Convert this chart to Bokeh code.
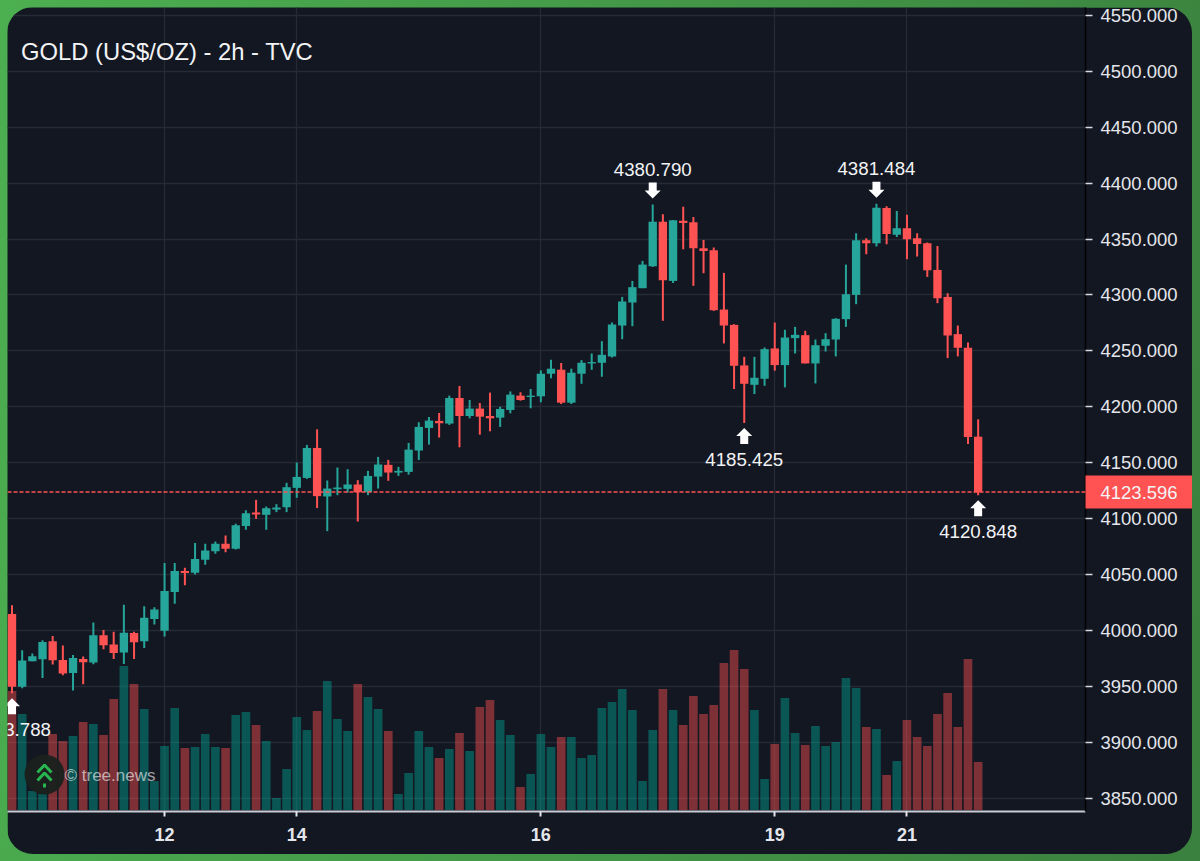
from bokeh.plotting import figure
from bokeh.embed import file_html
from bokeh.resources import INLINE
from bokeh.core.properties import value
from bokeh.models import (Range1d, FixedTicker, PrintfTickFormatter, Span,
                          Label, ColumnDataSource)

open_ = [4014.6,3949.4,3972.3,3974.1,3990.2,3973.5,3961.9,3974.4,3971.1,3995.6,3987.2,3980.1,3997.6,3990.2,4010.1,3999.7,
         4034.3,4053,4051.5,4063.1,4070.8,4077.4,4072.9,4093.2,4105.4,4103.3,4108,4110.1,4127.4,4136.3,4163.1,4119.7,
         4126.2,4126.5,4130.4,4123.5,4137.5,4148,4141.1,4141.7,4160.8,4181,4187.3,4184.9,4207.8,4191.7,4198.3,4191.7,
         4190.2,4197.1,4209.9,4208.7,4209.3,4229.5,4233.1,4203.6,4229.5,4238.7,4239.3,4244.9,4272.6,4293.2,4306,4325.6,
         4365.5,4312.5,4366.4,4364.9,4341.7,4339.9,4286.9,4273.2,4236.9,4219.6,4225,4252.1,4237.2,4261.3,4264,4238.7,
         4254.5,4260.1,4278.3,4300,4348.8,4346.2,4377.7,4353.9,4359.6,4350.6,4346.2,4322.3,4298.2,4264.9,4252.7,4173.2]
high = [4022.3,3982.2,3979.2,3991.1,3995,3986.3,3978,3976.5,4006.9,4000.3,3998.8,4022.9,3998.8,4021.5,4020.6,4060.2,
        4060.2,4056,4078,4077.4,4079.5,4084.8,4095.2,4107.4,4116.7,4110.7,4112.8,4131.9,4150,4165.8,4179.8,4134,
        4145.6,4144.1,4134.3,4142.6,4155.1,4152.4,4146.2,4167.6,4186.1,4190.8,4194.4,4209.9,4218.5,4206,4203.3,4212.6,
        4200,4213.7,4212.9,4215.8,4232.5,4242,4239.1,4234,4241.7,4247.6,4258.6,4275.3,4298.2,4312.5,4330.4,4380.8,
        4372.1,4366.7,4378.9,4369.7,4349.1,4342.3,4319.7,4273.8,4244.6,4244.6,4253,4275.3,4268.8,4271.4,4267.9,4260.1,
        4265.8,4279.2,4327.1,4355.1,4350.6,4381.5,4379.2,4375,4371.8,4355.1,4346.8,4343.8,4301.5,4272.6,4257.4,4188.7]
low = [3943.8,3948.2,3972.3,3957.4,3969.4,3959.8,3946.1,3951.8,3969.7,3983.1,3974.4,3969.9,3974.4,3984.2,4005.1,3994.4,
       4023.8,4040.2,4050,4058.6,4068.4,4069.9,4072.3,4089.9,4099.7,4089.9,4105.7,4105.7,4118.5,4135.4,4109.3,4088.7,
       4120.9,4123.2,4097.3,4120.9,4126.8,4133.7,4138.1,4139.3,4152.4,4166.1,4172.4,4183.7,4163.7,4189.6,4175,4178,
       4181.9,4194.1,4205.4,4198.6,4203.9,4225.4,4202.4,4202.4,4220.5,4233,4226.8,4244,4260.4,4272,4306,4325,
       4276.8,4310.7,4340.8,4308.1,4319.4,4285.7,4256.6,4215.8,4185.4,4211.3,4218.7,4232.2,4217.3,4247.6,4238.7,4220.8,
       4249.4,4245,4271.4,4291.7,4336.3,4343.2,4345.3,4351.8,4331.9,4334.3,4316.1,4292.6,4243.5,4245,4166.6,4120.8]
close = [3949.4,3972.9,3976.8,3989.6,3973.2,3961.3,3975.3,3971.4,3995.6,3986.6,3979.8,3997.9,3989.3,4011.3,4018.5,4035.1,
         4053,4051.2,4063.7,4071.4,4077.4,4072.9,4094,4104.8,4103.6,4109.2,4109.8,4128,4137.2,4163.1,4120,4126.8,
         4127.7,4130.4,4123.5,4138.1,4148.3,4141.1,4142.6,4161.6,4181.9,4187.6,4185.2,4207.8,4191.7,4198.3,4191.1,4189.6,
         4198,4210.8,4206,4209.9,4229.5,4234,4203.6,4230.4,4239.3,4239.9,4246.4,4273.5,4294.1,4306.9,4327.1,4365.5,
         4313.1,4366.7,4364.3,4341.7,4339.3,4286.3,4272.6,4236.6,4220.5,4225.9,4251.5,4237.2,4261.9,4264.3,4238.7,4255,
         4260.4,4278.6,4300.6,4348.8,4346.2,4378,4354.5,4359.6,4349.7,4345.6,4322,4297,4263.7,4252.7,4172.9,4123.5]
volume = [119,96,19,16,76,69,74,88,86,75,111,144,126,101,29,64,
          102,62,63,76,63,62,95,98,85,69,12,41,93,80,99,129,
          91,79,126,113,101,79,16,37,79,63,52,61,77,59,103,110,
          90,75,23,36,76,63,73,73,52,55,102,108,121,100,29,80,
          121,100,85,114,96,105,147,160,141,100,31,66,112,77,65,84,
          64,68,132,122,83,81,35,49,90,73,64,96,117,83,151,48]

x_tick_positions = [15, 28, 52, 75, 88]
x_tick_labels = ["12", "14", "16", "19", "21"]
y_grid_ticks = list(range(3850, 4551, 50))
last_price = 4123.596
last_price_text = "4123.596"
title_text = "GOLD (US$/OZ) - 2h - TVC"
peaks = [(63, 4380.790, "4380.790"), (85, 4381.484, "4381.484")]
troughs = [(0, 3943.788, "3943.788"), (72, 4185.425, "4185.425"), (95, 4120.848, "4120.848")]

UP, DOWN = "#26a69a", "#ff5252"
BG, GRID, TXT = "#131722", "#262a35", "#e4e6eb"

# pixel helpers for decorations only (page pixels -> axis units)
PX_X, PX_Y = 10.17, 1.118
def X(px): return (px - 11.5) / PX_X
def Y(py): return 3850 + (797.5 - py) / PX_Y

p = figure(frame_width=1078, frame_height=804, output_backend="svg", toolbar_location=None,
           x_range=Range1d(X(7), X(1085)), y_range=Range1d(Y(811), Y(7)),
           y_axis_location="right", min_border_left=0, min_border_top=0,
           min_border_right=107, min_border_bottom=43,
           background_fill_color=BG, border_fill_color=BG, outline_line_color=None)
p.styles = {"border-radius": "26px", "overflow": "hidden", "width": "1185px", "height": "847px"}
p.extra_y_ranges = {"vol": Range1d(-1.5, 802.5)}

idx = list(range(len(open_)))
colors = [UP if c >= o else DOWN for o, c in zip(open_, close)]
vol_colors = ["#009688" if c >= o else DOWN for o, c in zip(open_, close)]
vol_alpha = [0.5 if c >= o else 0.45 for o, c in zip(open_, close)]
src = ColumnDataSource(dict(x=idx, open=open_, high=high, low=low, close=close, volume=volume,
                            top=[max(o, c) for o, c in zip(open_, close)],
                            bottom=[min(o, c) for o, c in zip(open_, close)],
                            color=colors, vcolor=vol_colors, valpha=vol_alpha))

p.vbar(x="x", top="volume", bottom=0, width=0.85, fill_color="vcolor", fill_alpha="valpha",
       line_color=None, source=src, y_range_name="vol")
p.segment(x0="x", x1="x", y0="low", y1="high", line_color="color", line_width=2, source=src)
p.vbar(x="x", top="top", bottom="bottom", width=0.82, fill_color="color", line_color=None, source=src)

# axes
xa = p.xaxis[0]
xa.ticker = FixedTicker(ticks=x_tick_positions)
xa.major_label_overrides = dict(zip(x_tick_positions, x_tick_labels))
xa.major_label_text_font = "Liberation Sans"
xa.major_label_text_font_style = "bold"
xa.major_label_text_font_size = "18px"
xa.major_label_text_color = TXT
xa.major_label_standoff = 11
xa.axis_line_color = "#c9ccd4"
xa.axis_line_width = 2
xa.major_tick_line_color = "#e4e6eb"
xa.major_tick_line_width = 2
xa.major_tick_out = 5
xa.major_tick_in = 0
xa.minor_tick_line_color = None

ya = p.yaxis[0]
ya.ticker = FixedTicker(ticks=y_grid_ticks)
ya.formatter = PrintfTickFormatter(format="%.3f")
ya.major_label_text_font = "Liberation Sans"
ya.major_label_text_font_size = "18.5px"
ya.major_label_text_color = TXT
ya.major_label_standoff = 8
ya.axis_line_color = "#000000"
ya.axis_line_width = 1.5
ya.major_tick_line_color = "#d8dae0"
ya.major_tick_line_width = 1.5
ya.major_tick_out = 7
ya.major_tick_in = 0
ya.minor_tick_line_color = None

p.xgrid.grid_line_color = GRID
p.ygrid.grid_line_color = GRID
p.xgrid.grid_line_width = 1.3
p.ygrid.grid_line_width = 1.3

# last price line and box
p.add_layout(Span(location=last_price, dimension="width", line_color=DOWN, line_width=1.5, line_dash="4 2"))
p.add_layout(Label(x=1078, x_units="canvas", y=last_price, text=last_price_text, text_font="Liberation Sans",
                   text_font_size="18.5px", text_color="#f2f3f5", text_baseline="middle", text_align="left",
                   background_fill_color=DOWN, background_fill_alpha=1,
                   padding=(15, 15, 10, 10)), "right")

# extreme markers: block arrows and labels
def arrow(ix, tip, down):
    s = 1 if down else -1
    xc = ix
    hw, sw = 8 / PX_X, 4 / PX_X
    hh, total = 8 / PX_Y, 16 / PX_Y
    xs = [xc, xc + hw, xc + sw, xc + sw, xc - sw, xc - sw, xc - hw]
    ys = [tip, tip + s * hh, tip + s * hh, tip + s * total, tip + s * total, tip + s * hh, tip + s * hh]
    return xs, ys

ax, ay = [], []
for ix, price, _ in peaks:
    a, b = arrow(ix, price + 6 / PX_Y, True)
    ax.append(a); ay.append(b)
for ix, price, _ in troughs:
    a, b = arrow(ix, price - 5 / PX_Y, False)
    ax.append(a); ay.append(b)
p.patches(ax, ay, fill_color="#ffffff", line_color=None)

p.text(x=[t[0] for t in peaks], y=[t[1] + 35 / PX_Y for t in peaks], text=[t[2] for t in peaks],
       text_font=value("Liberation Sans"), text_font_size="18.7px", text_color="#f2f3f5",
       text_align="center", text_baseline="middle")
p.text(x=[t[0] for t in troughs], y=[t[1] - 36.5 / PX_Y for t in troughs], text=[t[2] for t in troughs],
       text_font=value("Liberation Sans"), text_font_size="18.7px", text_color="#f2f3f5",
       text_align="center", text_baseline="middle")

# title
p.add_layout(Label(x=X(20.5), y=Y(50.5), text=title_text, text_font="Liberation Sans", text_font_size="23.8px",
                   text_color="#f2f3f5", text_baseline="middle", text_align="left"))

# watermark
p.scatter([X(44)], [Y(774)], marker="circle", size=40, fill_color="#1a211e", line_color=None, fill_alpha=0.95)
p.multi_line([[X(37), X(44), X(51)], [X(37), X(44), X(51)]],
             [[Y(772), Y(764.5), Y(772)], [Y(780), Y(772.5), Y(780)]],
             line_color="#27b552", line_width=3)
p.rect([X(44)], [Y(785)], width=3 / PX_X, height=4 / PX_Y, fill_color="#27b552", line_color=None)
p.add_layout(Label(x=X(64), y=Y(775), text="© tree.news", text_font="Liberation Sans", text_font_size="17px",
                   text_color="#ffffff", text_alpha=0.6, text_baseline="middle", text_align="left"))

html = file_html(p, INLINE)
html = html.replace("</head>", "<style>html,body{margin:0;height:100%;overflow:hidden;"
                    "background:linear-gradient(100deg,#4caf50,#3a803e);}body{padding:7px;box-sizing:border-box;}</style></head>")
open("out.html", "w").write(html)
